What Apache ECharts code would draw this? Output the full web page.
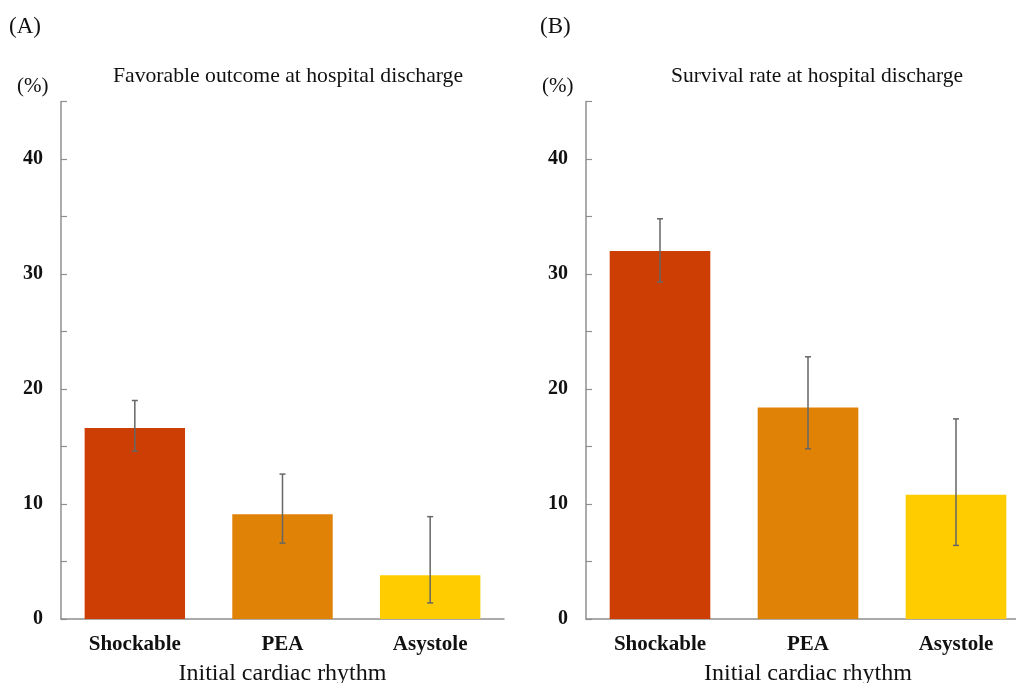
<!DOCTYPE html>
<html>
<head>
<meta charset="utf-8">
<script src="https://cdn.jsdelivr.net/npm/echarts@6/dist/echarts.min.js"></script>
<style>html,body{margin:0;padding:0;background:#fff}#c{width:1016px;height:683px}</style>
</head>
<body>
<div id="c"></div>
<script>
const categories = ['Shockable', 'PEA', 'Asystole'];
const barColors = ['#CD3E04', '#E08206', '#FFCC00'];
// Panel A: favorable outcome at hospital discharge (%)
const favorableValues = [16.6, 9.1, 3.8];
const favorableLower = [14.6, 6.6, 1.4];
const favorableUpper = [19.0, 12.6, 8.9];
// Panel B: survival rate at hospital discharge (%)
const survivalValues = [32.0, 18.4, 10.8];
const survivalLower = [29.3, 14.8, 6.4];
const survivalUpper = [34.8, 22.8, 17.4];
const yTickLabels = ['0', '10', '20', '30', '40'];

const FONT = '"Liberation Serif", "Times New Roman", serif';
const axisGray = '#8f8f8f';

function errData(lo, hi) { return categories.map((c, i) => [i, lo[i], hi[i]]); }

function errRender(params, api) {
  const x = api.value(0);
  const lo = api.coord([x, api.value(1)]);
  const hi = api.coord([x, api.value(2)]);
  const cap = 3;
  const style = { stroke: '#666', lineWidth: 1.5, fill: null };
  return {
    type: 'group',
    children: [
      { type: 'line', shape: { x1: lo[0], y1: lo[1], x2: hi[0], y2: hi[1] }, style },
      { type: 'line', shape: { x1: hi[0] - cap, y1: hi[1], x2: hi[0] + cap, y2: hi[1] }, style },
      { type: 'line', shape: { x1: lo[0] - cap, y1: lo[1], x2: lo[0] + cap, y2: lo[1] }, style }
    ]
  };
}

function xAxisDef(idx) {
  return {
    type: 'category', gridIndex: idx, data: categories,
    axisLine: { lineStyle: { color: axisGray, width: 1.5 } },
    axisTick: { show: false },
    axisLabel: { color: '#111', fontFamily: FONT, fontSize: 21, fontWeight: 'bold', margin: 15 },
    name: 'Initial cardiac rhythm', nameLocation: 'middle', nameGap: 43,
    nameTextStyle: { color: '#111', fontFamily: FONT, fontSize: 24 }
  };
}
function yAxisDef(idx) {
  return {
    type: 'value', gridIndex: idx, min: 0, max: 45, interval: 5,
    axisLine: { show: true, lineStyle: { color: axisGray, width: 1.5 } },
    axisTick: { show: true, inside: true, length: 6, lineStyle: { color: axisGray, width: 1.2 } },
    splitLine: { show: false },
    axisLabel: {
      color: '#111', fontFamily: FONT, fontSize: 20, fontWeight: 'bold', margin: 18,
      padding: [3, 0, 0, 0],
      formatter: v => (yTickLabels.indexOf(String(v)) >= 0 ? String(v) : '')
    }
  };
}

const chart = echarts.init(document.getElementById('c'), null, { renderer: 'canvas' });
chart.setOption({
  backgroundColor: '#fff',
  animation: false,
  title: [
    { text: '(A)', left: 4, top: 10, textStyle: { fontFamily: FONT, fontSize: 23, fontWeight: 'normal', color: '#111' } },
    { text: '(B)', left: 535, top: 10, textStyle: { fontFamily: FONT, fontSize: 23, fontWeight: 'normal', color: '#111' } },
    { text: 'Favorable outcome at hospital discharge', left: 283, textAlign: 'center', top: 60, textStyle: { fontFamily: FONT, fontSize: 21.7, fontWeight: 'normal', color: '#111' } },
    { text: 'Survival rate at hospital discharge', left: 812, textAlign: 'center', top: 60, textStyle: { fontFamily: FONT, fontSize: 21.5, fontWeight: 'normal', color: '#111' } },
    { text: '(%)', left: 12, top: 71, textStyle: { fontFamily: FONT, fontSize: 21, fontWeight: 'normal', color: '#111' } },
    { text: '(%)', left: 537, top: 71, textStyle: { fontFamily: FONT, fontSize: 21, fontWeight: 'normal', color: '#111' } }
  ],
  grid: [
    { left: 61, top: 101.5, width: 443, height: 517.5, outerBoundsMode: 'none' },
    { left: 586, top: 101.5, width: 444, height: 517.5, outerBoundsMode: 'none' }
  ],
  xAxis: [xAxisDef(0), xAxisDef(1)],
  yAxis: [yAxisDef(0), yAxisDef(1)],
  series: [
    {
      type: 'bar', xAxisIndex: 0, yAxisIndex: 0, barWidth: '68%',
      data: favorableValues.map((v, i) => ({ value: v, itemStyle: { color: barColors[i] } }))
    },
    {
      type: 'custom', xAxisIndex: 0, yAxisIndex: 0, renderItem: errRender,
      data: errData(favorableLower, favorableUpper), z: 10
    },
    {
      type: 'bar', xAxisIndex: 1, yAxisIndex: 1, barWidth: '68%',
      data: survivalValues.map((v, i) => ({ value: v, itemStyle: { color: barColors[i] } }))
    },
    {
      type: 'custom', xAxisIndex: 1, yAxisIndex: 1, renderItem: errRender,
      data: errData(survivalLower, survivalUpper), z: 10
    }
  ]
});
</script>
</body>
</html>
